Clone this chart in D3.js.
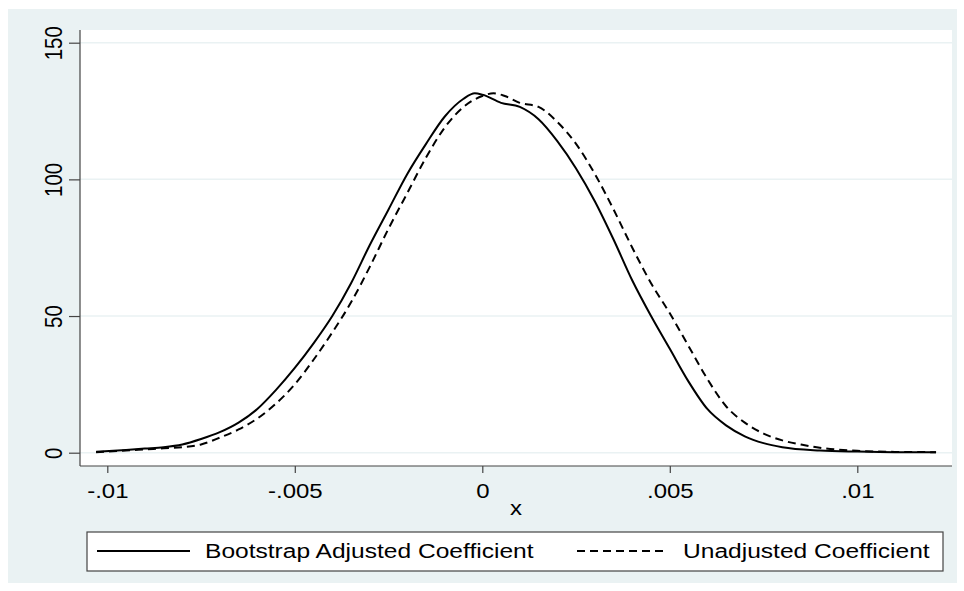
<!DOCTYPE html>
<html>
<head>
<meta charset="utf-8">
<script src="https://cdn.jsdelivr.net/npm/d3@7"></script>
<style>
  body { margin: 0; background: #fff; }
  text { font-family: "Liberation Sans", Arial, sans-serif; fill: #000; }
</style>
</head>
<body>
<div id="content"></div>
<script>
// kernel density values
const xAdjusted = [-0.0103, -0.0095, -0.009, -0.0085, -0.008, -0.0075, -0.007, -0.0065, -0.006, -0.0055,
  -0.005, -0.0045, -0.004, -0.0035, -0.003, -0.0025, -0.002, -0.0015, -0.001, -0.0005, -0.0002,
  0, 0.0005, 0.001, 0.0015, 0.002, 0.0025, 0.003, 0.0035, 0.004, 0.0045, 0.005, 0.0055, 0.006,
  0.0065, 0.007, 0.0075, 0.008, 0.009, 0.01, 0.011, 0.0121];
const yAdjusted = [0.3, 1.0, 1.5, 2.0, 3.0, 5.0, 7.5, 11, 16, 23,
  31, 40, 50, 62, 76, 89, 102, 113, 123, 129.5, 131.5,
  131, 128, 126.5, 122, 114, 104, 92, 78, 63, 50, 38, 26, 16,
  10, 6, 3.5, 2, 0.8, 0.4, 0.2, 0.2];

const xUnadjusted = [-0.0103, -0.0095, -0.009, -0.0085, -0.008, -0.0075, -0.007, -0.0065, -0.006, -0.0055,
  -0.005, -0.0045, -0.004, -0.0035, -0.003, -0.0025, -0.002, -0.0015, -0.001, -0.0005,
  0, 0.0003, 0.0006, 0.001, 0.0015, 0.002, 0.0025, 0.003, 0.0035, 0.004, 0.0045, 0.005, 0.0055,
  0.006, 0.0065, 0.007, 0.0075, 0.008, 0.0085, 0.009, 0.01, 0.011, 0.0121];
const yUnadjusted = [0.2, 0.8, 1.2, 1.6, 2.0, 3.0, 5.5, 8.5, 12.5, 18,
  25, 34, 44, 55, 68, 82, 95, 108, 119, 126.5,
  130.5, 131.5, 130.5, 128, 126.5, 121, 113, 102, 89, 75, 62, 51, 39,
  27, 17, 11, 7, 4.5, 3, 1.8, 0.7, 0.3, 0.2];

const xTicks = [-0.01, -0.005, 0, 0.005, 0.01];
const xTickLabels = ["-.01", "-.005", "0", ".005", ".01"];
const yTicks = [0, 50, 100, 150];
const seriesNames = ["Bootstrap Adjusted Coefficient", "Unadjusted Coefficient"];

const width = 964;
const height = 591;
const plot = { left: 80, right: 952, top: 30, bottom: 466 };
// the stata export was stretched sideways, text too
const stretch = 1.17;
const fontSize = 20.5;

const svg = d3
  .select("#content")
  .append("svg")
  .attr("width", width)
  .attr("height", height);

// graph region (stata ltbluishgray)
svg.append("rect")
  .attr("x", 8).attr("y", 9)
  .attr("width", 949).attr("height", 574)
  .attr("fill", "#eaf2f3");

svg.append("rect")
  .attr("x", plot.left).attr("y", plot.top)
  .attr("width", plot.right - plot.left).attr("height", plot.bottom - plot.top)
  .attr("fill", "#fff");

// x: -.01 -> 107.3, .01 -> 857.3
const xScale = d3.scaleLinear().domain([-0.01, 0.01]).range([107.3, 857.3]);
const yScale = d3.scaleLinear().domain([0, 150]).range([452.7, 42.7]);

// grid lines
svg.selectAll("line.grid")
  .data(yTicks)
  .enter()
  .append("line")
  .attr("class", "grid")
  .attr("x1", plot.left).attr("x2", plot.right)
  .attr("y1", d => yScale(d)).attr("y2", d => yScale(d))
  .attr("stroke", "#eaf2f3")
  .attr("stroke-width", 1.5);

// curves
const line = d3.line()
  .x(d => xScale(d[0]))
  .y(d => yScale(d[1]))
  .curve(d3.curveMonotoneX);

svg.append("path")
  .datum(d3.zip(xAdjusted, yAdjusted))
  .attr("d", line)
  .attr("fill", "none")
  .attr("stroke", "#000")
  .attr("stroke-width", 2);

svg.append("path")
  .datum(d3.zip(xUnadjusted, yUnadjusted))
  .attr("d", line)
  .attr("fill", "none")
  .attr("stroke", "#000")
  .attr("stroke-width", 2)
  .attr("stroke-dasharray", "8,5");

// axes
const xAxis = d3.axisBottom(xScale)
  .tickValues(xTicks)
  .tickFormat((d, i) => xTickLabels[i])
  .tickSize(7);

const gx = svg.append("g")
  .attr("transform", `translate(0,${plot.bottom})`)
  .call(xAxis);
gx.select(".domain").attr("d", `M${plot.left},0H${plot.right}`);

const yAxis = d3.axisLeft(yScale)
  .tickValues(yTicks)
  .tickFormat(d3.format("d"))
  .tickSize(11);

const gy = svg.append("g")
  .attr("transform", `translate(${plot.left},0)`)
  .call(yAxis);
gy.select(".domain").attr("d", `M0,${plot.top}V${plot.bottom}`);

svg.selectAll(".domain, .tick line").attr("stroke", "#444").attr("stroke-width", 1.2);
svg.selectAll(".tick text")
  .attr("font-size", fontSize)
  .attr("font-family", "Liberation Sans, Arial, sans-serif")
  .attr("fill", "#000");

gx.selectAll(".tick text")
  .attr("y", null).attr("dy", null)
  .attr("transform", `translate(0,32) scale(${stretch},1)`);

// rotate the y labels like stata
gy.selectAll(".tick text")
  .attr("x", null).attr("dy", null)
  .attr("text-anchor", "middle")
  .attr("transform", `translate(-18,0) scale(${stretch},1) rotate(-90)`);

// axis title
svg.append("text")
  .attr("transform", `translate(${(plot.left + plot.right) / 2},515) scale(${stretch},1)`)
  .attr("text-anchor", "middle")
  .attr("font-size", fontSize)
  .text("x");

// legend
const legend = svg.append("g");
legend.append("rect")
  .attr("x", 87).attr("y", 532)
  .attr("width", 856).attr("height", 39)
  .attr("fill", "#fff")
  .attr("stroke", "#444")
  .attr("stroke-width", 1.2);

const legendItems = [
  { name: seriesNames[0], x1: 97, x2: 190, tx: 205, dash: null },
  { name: seriesNames[1], x1: 577, x2: 668, tx: 683, dash: "8,5" }
];

legendItems.forEach(item => {
  legend.append("line")
    .attr("x1", item.x1).attr("x2", item.x2)
    .attr("y1", 551).attr("y2", 551)
    .attr("stroke", "#000")
    .attr("stroke-width", 2)
    .attr("stroke-dasharray", item.dash);
  legend.append("text")
    .attr("transform", `translate(${item.tx},558) scale(${stretch},1)`)
    .attr("font-size", 21)
    .text(item.name);
});
</script>
</body>
</html>
